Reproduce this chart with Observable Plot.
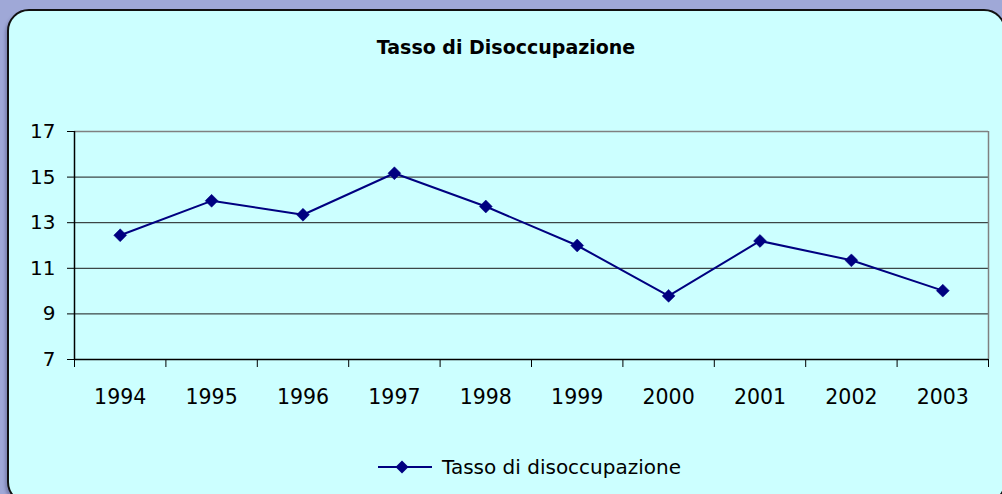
<!DOCTYPE html>
<html>
<head>
<meta charset="utf-8">
<script src="https://cdn.jsdelivr.net/npm/d3@7"></script>
<script src="https://cdn.jsdelivr.net/npm/@observablehq/plot@0.6"></script>
<style>
  html, body { margin: 0; padding: 0; width: 1002px; height: 494px; overflow: hidden; background: #9fa8d7; }
  #panel { position: absolute; left: 7px; top: 9px; width: 999px; height: 495px; box-sizing: border-box;
    background: #ccffff; border: 2px solid #111; border-radius: 22px; box-shadow: -2px 3px 3px rgba(60,60,110,0.35); }
  #title { position: absolute; left: 0; width: 1012px; top: 36px; text-align: center;
    font-family: "Comic Sans MS", "DejaVu Sans", sans-serif; font-weight: bold; font-size: 19px; color: #000; }
  #chart { position: absolute; left: 0; top: 0; }
  #legend { position: absolute; left: 378px; top: 455px; display: flex; align-items: center;
    font-family: "Comic Sans MS", "DejaVu Sans", sans-serif; font-size: 20px; color: #000; }
  #legend svg { margin-right: 8px; }
</style>
</head>
<body>
<div id="panel"></div>
<div id="title">Tasso di Disoccupazione</div>
<div id="chart"></div>
<div id="legend"><svg width="56" height="14"><line x1="0" y1="7" x2="54" y2="7" stroke="#000080" stroke-width="2"/><path d="M24,0.5 L30.5,7 L24,13.5 L17.5,7 Z" fill="#000080"/></svg><span>Tasso di disoccupazione</span></div>
<script>
const years = ["1994","1995","1996","1997","1998","1999","2000","2001","2002","2003"];
const values = [12.45, 13.96, 13.35, 15.17, 13.71, 12.0, 9.79, 12.2, 11.35, 10.02];
const yTicks = [7, 9, 11, 13, 15, 17];

const data = years.map((y, i) => ({year: y, pos: i + 0.5, value: values[i]}));
const boundaries = d3.range(years.length + 1);
const fontFamily = '"Comic Sans MS", "DejaVu Sans", sans-serif';

const chart = Plot.plot({
  width: 1002,
  height: 494,
  marginLeft: 74,
  marginRight: 14,
  marginTop: 131,
  marginBottom: 135,
  style: {background: "transparent", fontFamily, fontSize: "20px", color: "#000", overflow: "visible"},
  x: {domain: [0, years.length], axis: null},
  y: {domain: [7, 17], axis: null},
  marks: [
    Plot.ruleY(yTicks.filter(t => t !== 17 && t !== 7), {stroke: "#1a1a1a", strokeWidth: 1}),
    Plot.ruleY([17], {stroke: "#808080", strokeWidth: 1.5}),
    Plot.ruleX([years.length], {stroke: "#808080", strokeWidth: 1.5}),
    Plot.ruleY([7], {stroke: "#000", strokeWidth: 1.5}),
    Plot.ruleX([0], {stroke: "#000", strokeWidth: 1.5}),
    Plot.axisY({ticks: yTicks, tickSize: 7, tickPadding: 12, tickFormat: d => String(d), stroke: "#000", fontSize: 20, label: null}),
    Plot.axisX({ticks: boundaries, tickSize: 8, tickFormat: () => "", stroke: "#000", label: null}),
    Plot.axisX({ticks: data.map(d => d.pos), tickSize: 0, tickPadding: 30, tickFormat: p => years[Math.floor(p)], fontSize: 20.5, label: null}),
    Plot.line(data, {x: "pos", y: "value", stroke: "#000080", strokeWidth: 2}),
    Plot.dot(data, {x: "pos", y: "value", symbol: "diamond2", r: 5.8, fill: "#000080", stroke: "#000080", strokeWidth: 0.5})
  ]
});
document.getElementById("chart").appendChild(chart);
</script>
</body>
</html>
